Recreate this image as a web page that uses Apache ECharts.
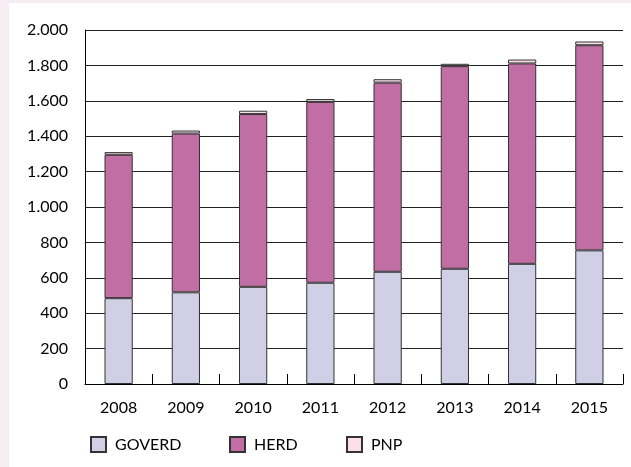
<!DOCTYPE html>
<html>
<head>
<meta charset="utf-8">
<script src="https://cdn.jsdelivr.net/npm/echarts@6/dist/echarts.min.js"></script>
<style>
html,body{margin:0;padding:0;background:#f8ecf3;}
#panel{position:absolute;left:9px;top:3px;width:622px;height:464px;background:#fff;}
#main{position:absolute;left:0;top:0;width:631px;height:467px;}
</style>
</head>
<body>
<div id="panel"></div>
<div id="main"></div>
<script>
var years = ['2008','2009','2010','2011','2012','2013','2014','2015'];
var goverd = [485, 518, 549, 572, 634, 651, 679, 755];
var herd = [810, 897, 976, 1022, 1069, 1145, 1132, 1159];
var pnp = [15, 17, 19, 16, 19, 13, 22, 21];

var fontName = 'Lato';

//千位分隔符用点
function fmt(v){
	return String(v).replace(/\B(?=(\d{3})+(?!\d))/g, '.');
}

function barSeries(name, data, color){
	return {
		name: name,
		type: 'bar',
		stack: 'total',
		barWidth: '42%',
		data: data,
		itemStyle: {
			color: color,
			borderColor: '#333',
			borderWidth: 1
		}
	};
}

function legendAt(name, left){
	return {
		data: [name],
		left: left,
		top: 431,
		itemWidth: 15,
		itemHeight: 15,
		icon: 'rect',
		textStyle: {
			fontFamily: fontName,
			fontSize: 16,
			color: '#000',
			padding: [0, 0, 0, 4]
		}
	};
}

var myChart = echarts.init(document.getElementById('main'));
var option = {
	animation: false,
	backgroundColor: 'transparent',
	grid: {
		left: 85,
		right: 8,
		top: 30,
		bottom: 83
	},
	legend: [
		legendAt('GOVERD', 85),
		legendAt('HERD', 224),
		legendAt('PNP', 341)
	],
	xAxis: {
		type: 'category',
		data: years,
		axisLine: { lineStyle: { color: '#000', width: 1 } },
		axisTick: { show: true, inside: true, length: 10, lineStyle: { color: '#000' } },
		axisLabel: {
			fontFamily: fontName,
			fontSize: 16,
			color: '#000',
			margin: 16
		}
	},
	yAxis: {
		type: 'value',
		min: 0,
		max: 2000,
		interval: 200,
		axisLine: { show: true, lineStyle: { color: '#000', width: 1 } },
		axisTick: { show: false },
		splitLine: { lineStyle: { color: '#222', width: 1 } },
		axisLabel: {
			fontFamily: fontName,
			fontSize: 16,
			color: '#000',
			margin: 17,
			formatter: fmt
		}
	},
	series: [
		barSeries('GOVERD', goverd, '#d0cfe5'),
		barSeries('HERD', herd, '#c06ea4'),
		barSeries('PNP', pnp, '#fbe0ec')
	]
};
myChart.setOption(option);
</script>
</body>
</html>
